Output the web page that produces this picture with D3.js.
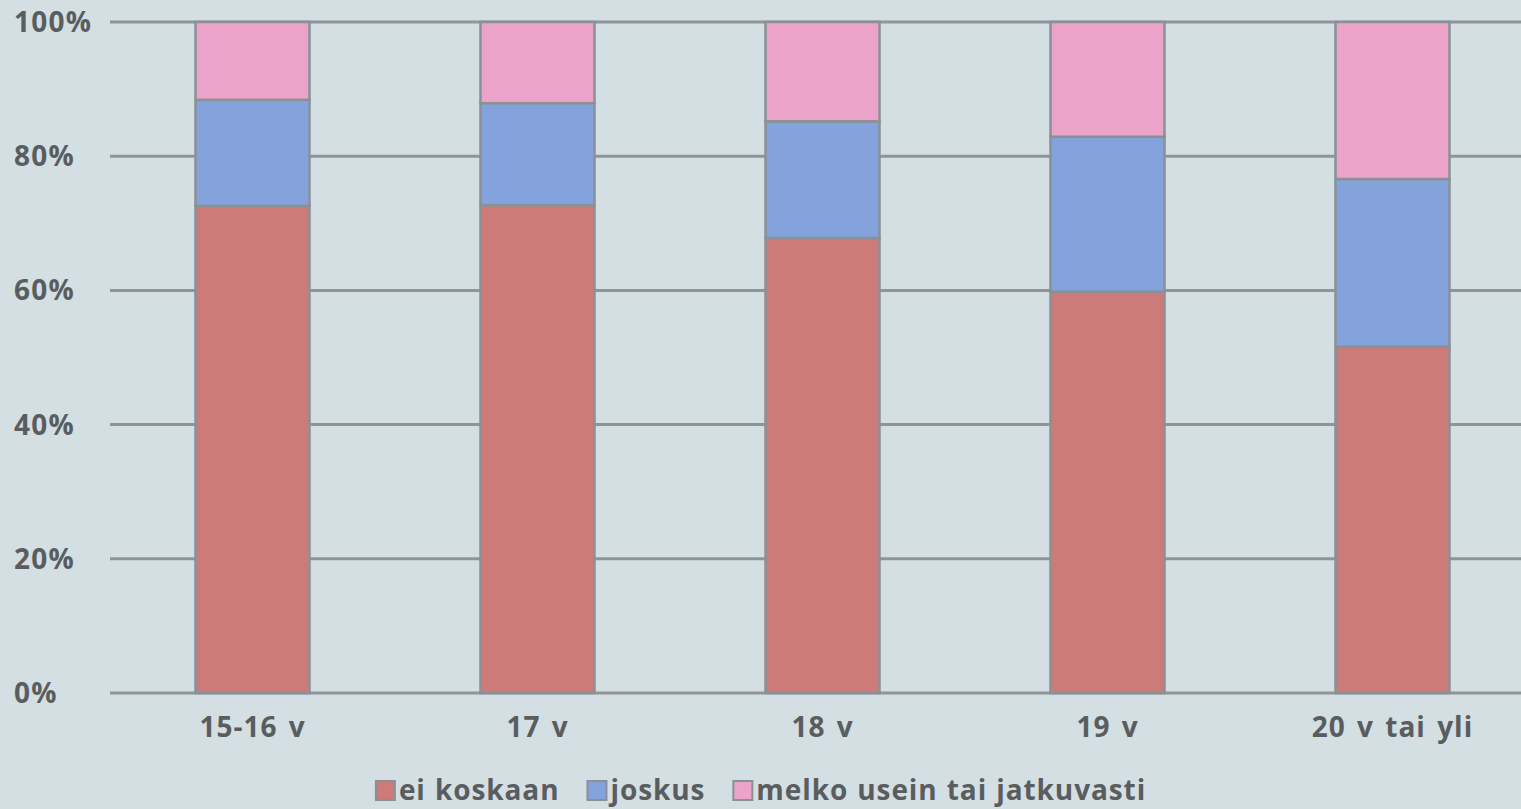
<!DOCTYPE html>
<html>
<head>
<meta charset="utf-8">
<script src="https://cdn.jsdelivr.net/npm/d3@7/dist/d3.min.js"></script>
<style>
  html, body { margin: 0; padding: 0; background: #d3dfe2; overflow: hidden; }
  svg { display: block; }
  text { font-family: "Open Sans", "Noto Sans", sans-serif; font-weight: 700; fill: #5a5d5f; }
</style>
</head>
<body>
<svg id="chart" width="1521" height="809"></svg>
<script>
// Age groups and the share (%) of each answer
const categories = ["15-16 v", "17 v", "18 v", "19 v", "20 v tai yli"];
const seriesNames = ["ei koskaan", "joskus", "melko usein tai jatkuvasti"];
const eiKoskaan = [72.6, 72.7, 67.8, 59.8, 51.6];
const joskus    = [15.8, 15.2, 17.4, 23.1, 25.0];
const melkoUsein = [11.6, 12.1, 14.8, 17.1, 23.4];
const yTicks = [0, 20, 40, 60, 80, 100];
const colors = ["#cc7b78", "#84a2dc", "#eba3c9"];

const svg = d3.select("#chart");
const W = 1521, H = 809;
const plot = { left: 110, right: 1535, top: 22, bottom: 693 };

svg.append("rect").attr("width", W).attr("height", H).attr("fill", "#d3dfe2");

const x = d3.scaleBand().domain(categories).range([plot.left, plot.right]).paddingInner(0.6).paddingOuter(0.3);
const y = d3.scaleLinear().domain([0, 100]).range([plot.bottom, plot.top]);

// gridlines
svg.append("g").selectAll("line").data(yTicks).join("line")
  .attr("x1", plot.left).attr("x2", W + 20)
  .attr("y1", d => y(d)).attr("y2", d => y(d))
  .attr("stroke", "#8e9497").attr("stroke-width", 3);

// y tick labels
svg.append("g").selectAll("text").data(yTicks).join("text")
  .attr("x", 14).attr("y", d => y(d)).attr("dy", "0.36em")
  .attr("font-size", 28).attr("letter-spacing", 1.2)
  .text(d => d + "%");

// stacked bars
const rows = categories.map((c, i) => ({ cat: c, s0: eiKoskaan[i], s1: joskus[i], s2: melkoUsein[i] }));
const stack = d3.stack().keys(["s0", "s1", "s2"])(rows);
svg.append("g").selectAll("g").data(stack).join("g")
  .attr("fill", (d, i) => colors[i])
  .selectAll("rect").data(d => d).join("rect")
  .attr("x", d => x(d.data.cat))
  .attr("width", x.bandwidth())
  .attr("y", d => y(d[1]))
  .attr("height", d => y(d[0]) - y(d[1]))
  .attr("stroke", "#8a9196").attr("stroke-width", 2.5);

// category labels
svg.append("g").selectAll("text").data(categories).join("text")
  .attr("x", d => x(d) + x.bandwidth() / 2).attr("y", 737)
  .attr("text-anchor", "middle").attr("font-size", 28)
  .attr("letter-spacing", 1).attr("word-spacing", 3)
  .text(d => d);

// legend
const leg = svg.append("g");
const items = seriesNames.map((n, i) => {
  const g = leg.append("g");
  g.append("rect").attr("width", 19).attr("height", 19).attr("y", -19)
    .attr("fill", colors[i]).attr("stroke", "#8a9196").attr("stroke-width", 2);
  const t = g.append("text").attr("x", 23).attr("y", 0).attr("font-size", 28)
    .attr("letter-spacing", 0.9).attr("word-spacing", 1).text(n);
  return { g, w: 23 + t.node().getComputedTextLength() };
});
const gap = 28;
const total = d3.sum(items, d => d.w) + gap * (items.length - 1);
let cx = 761 - total / 2;
items.forEach(it => { it.g.attr("transform", `translate(${cx},800)`); cx += it.w + gap; });
</script>
</body>
</html>
